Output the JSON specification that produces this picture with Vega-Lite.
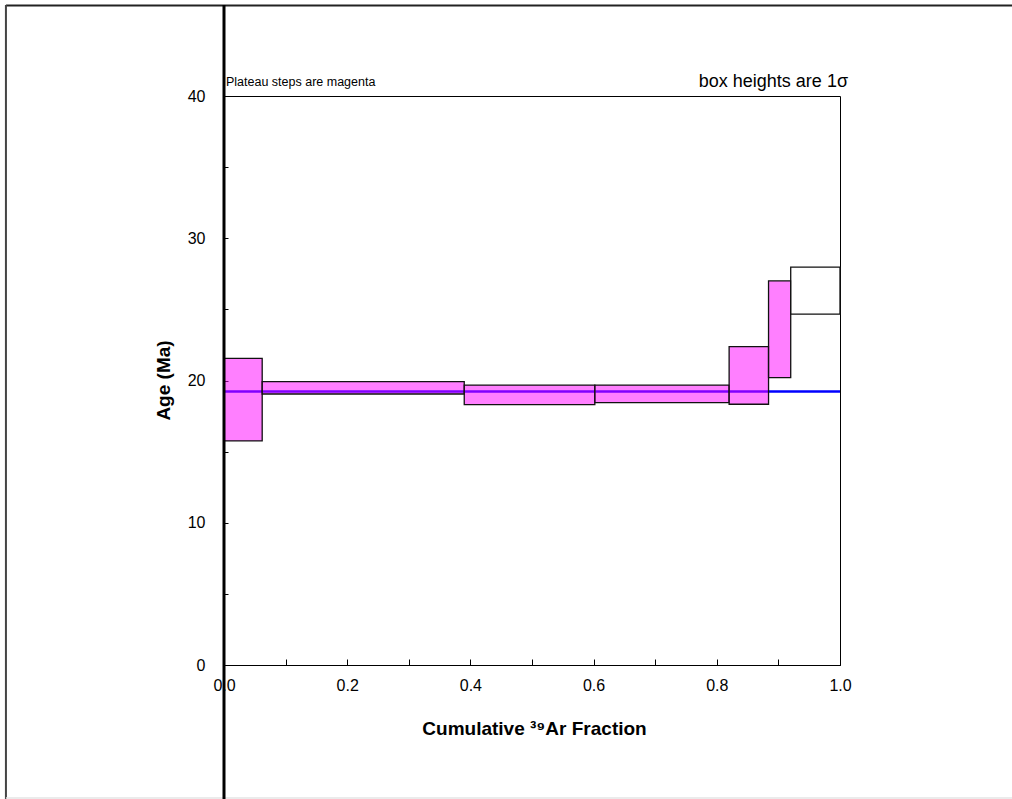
{
  "$schema": "https://vega.github.io/schema/vega-lite/v6.json",
  "width": 616,
  "height": 569,
  "autosize": "none",
  "padding": {"left": 224, "top": 96, "right": 172, "bottom": 134},
  "background": "white",
  "config": {
    "view": {"stroke": "black", "strokeWidth": 1},
    "font": "Liberation Sans",
    "axis": {"grid": false, "labelFont": "Liberation Sans", "titleFont": "Liberation Sans", "labelColor": "black", "titleColor": "black", "tickColor": "black", "domainColor": "black"}
  },
  "datasets": {
    "steps": [
      {"step": 1, "x0": 0, "x1": 0.062, "lo": 15.75, "hi": 21.55, "status": "plateau"},
      {"step": 2, "x0": 0.062, "x1": 0.39, "lo": 19.05, "hi": 19.92, "status": "plateau"},
      {"step": 3, "x0": 0.39, "x1": 0.602, "lo": 18.3, "hi": 19.68, "status": "plateau"},
      {"step": 4, "x0": 0.602, "x1": 0.82, "lo": 18.44, "hi": 19.68, "status": "plateau"},
      {"step": 5, "x0": 0.82, "x1": 0.884, "lo": 18.33, "hi": 22.38, "status": "plateau"},
      {"step": 6, "x0": 0.884, "x1": 0.92, "lo": 20.2, "hi": 27.0, "status": "plateau"},
      {"step": 7, "x0": 0.92, "x1": 1.0, "lo": 24.67, "hi": 27.97, "status": "excluded"}
    ],
    "plateau": [{"age": 19.22, "from": 0, "to": 1}]
  },
  "layer": [
    {
      "data": {"values": [{}]},
      "mark": {"type": "rule", "color": "#222222", "strokeWidth": 2},
      "encoding": {"x": {"datum": -0.354}, "x2": {"datum": 1.3}, "y": {"datum": 46.36}}
    },
    {
      "data": {"values": [{}]},
      "mark": {"type": "rule", "color": "#444444", "strokeWidth": 2},
      "encoding": {"x": {"datum": -0.354}, "y": {"datum": 46.4}, "y2": {"datum": -9.6}}
    },
    {
      "data": {"values": [{}]},
      "mark": {"type": "rule", "color": "#e4e4e4", "strokeWidth": 1.5},
      "encoding": {"x": {"datum": -0.354}, "x2": {"datum": 1.3}, "y": {"datum": -9.35}}
    },
    {
      "data": {"name": "plateau"},
      "mark": {"type": "rule", "color": "#0000ff", "strokeWidth": 2.5},
      "encoding": {
        "x": {"field": "from", "type": "quantitative"},
        "x2": {"field": "to"},
        "y": {"field": "age", "type": "quantitative"}
      }
    },
    {
      "data": {"name": "steps"},
      "mark": {"type": "rect", "stroke": "#111111", "strokeWidth": 1.3, "fillOpacity": 0.5},
      "encoding": {
        "x": {
          "field": "x0", "type": "quantitative",
          "scale": {"domain": [0, 1], "nice": false, "zero": false},
          "axis": {
            "values": [0, 0.1, 0.2, 0.3, 0.4, 0.5, 0.6, 0.7, 0.8, 0.9, 1.0],
            "labelExpr": "round(datum.value*10)%2===0 ? format(datum.value,'.1f') : ''",
            "tickSize": -6,
            "labelPadding": 18,
            "labelFontSize": 16,
            "labelFlush": false,
            "labelOverlap": false,
            "domain": true,
            "title": "Cumulative ³⁹Ar Fraction",
            "titleFontSize": 19,
            "titleFontWeight": "bold",
            "titleX": 310,
            "titleY": 63,
            "titleBaseline": "middle",
            "titleAlign": "center"
          }
        },
        "x2": {"field": "x1"},
        "y": {
          "field": "lo", "type": "quantitative",
          "scale": {"domain": [0, 40], "nice": false, "zero": false},
          "axis": {
            "values": [0, 5, 10, 15, 20, 25, 30, 35, 40],
            "labelExpr": "datum.value%10===0 ? datum.label : ''",
            "tickSize": -4,
            "labelPadding": 23,
            "labelFontSize": 16,
            "labelFlush": false,
            "labelOverlap": false,
            "domain": false,
            "title": "Age (Ma)",
            "titleFontSize": 19,
            "titleFontWeight": "bold",
            "titleX": -61,
            "titleY": 284,
            "titleBaseline": "middle",
            "titleAlign": "center"
          }
        },
        "y2": {"field": "hi"},
        "fill": {
          "field": "status", "type": "nominal",
          "scale": {"domain": ["plateau", "excluded"], "range": ["#ff00ff", "#ffffff"]},
          "legend": null
        }
      }
    },
    {
      "data": {"values": [{}]},
      "mark": {"type": "rule", "color": "black", "strokeWidth": 3},
      "encoding": {"x": {"datum": 0}, "y": {"datum": 46.4}, "y2": {"datum": -9.7}}
    },
    {
      "data": {"values": [{"note": "Plateau steps are magenta"}]},
      "mark": {"type": "text", "align": "left", "baseline": "alphabetic", "dx": 2, "dy": -10, "fontSize": 12.5, "font": "Liberation Sans", "color": "black"},
      "encoding": {"x": {"datum": 0}, "y": {"datum": 40}, "text": {"field": "note"}}
    },
    {
      "data": {"values": [{"note": "box heights are 1σ"}]},
      "mark": {"type": "text", "align": "right", "baseline": "alphabetic", "dx": 8, "dy": -9, "fontSize": 18, "font": "Liberation Sans", "color": "black"},
      "encoding": {"x": {"datum": 1}, "y": {"datum": 40}, "text": {"field": "note"}}
    }
  ]
}
